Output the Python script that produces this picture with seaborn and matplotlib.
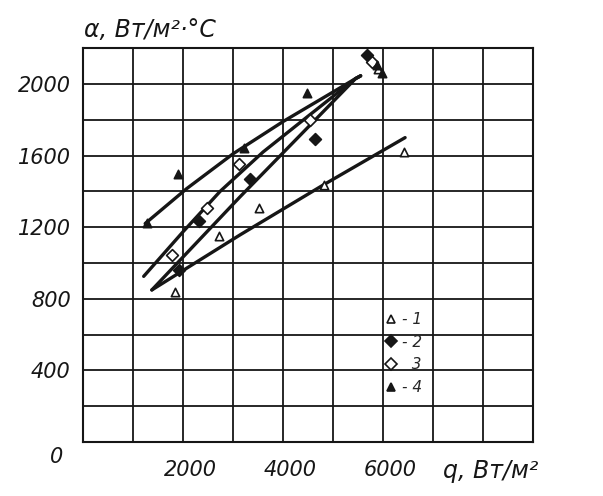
import matplotlib
matplotlib.use("Agg")
import matplotlib.pyplot as plt
import matplotlib.transforms as mtransforms
from matplotlib.lines import Line2D
import pandas as pd
import seaborn as sns

sns.set_style("white")
plt.rcParams['font.family'] = ['DejaVu Sans']

# measured points, q in W/m2, alpha in W/(m2 C)
q_1 = [1840, 2710, 3510, 4810, 6410, 5900]
a_1 = [840, 1150, 1305, 1435, 1620, 2085]
q_2 = [1910, 2310, 3340, 4630, 5670]
a_2 = [960, 1235, 1470, 1695, 2160]
q_3 = [1770, 2470, 3110, 4540, 5780]
a_3 = [1045, 1305, 1550, 1800, 2120]
q_4 = [1270, 1900, 3220, 4470, 5870, 5970]
a_4 = [1222, 1495, 1640, 1950, 2105, 2060]

# hand drawn curves
curve_q_1 = [1373, 3140, 4806, 6440]
curve_a_1 = [849, 1157, 1436, 1700]
curve_q_2 = [1373, 3140, 5450, 5550]
curve_a_2 = [849, 1370, 2030, 2045]
curve_q_3 = [1210, 2000, 2740, 3600, 4500, 5450, 5550]
curve_a_3 = [925, 1175, 1400, 1620, 1820, 2030, 2045]
curve_q_4 = [1240, 2070, 3000, 4000, 5000, 5450, 5550]
curve_a_4 = [1220, 1415, 1610, 1790, 1955, 2030, 2045]

x_ticks = list(range(0, 9001, 1000))
y_ticks = list(range(0, 2201, 200))
x_labels = ["2000", "4000", "6000"]
y_labels = ["400", "800", "1200", "1600", "2000"]

ink = "#161616"
lab_font = dict(fontsize=15, fontstyle="italic", color=ink)

fig = plt.figure(figsize=(6.03, 4.96), dpi=100)
ax = fig.add_axes([0.138, 0.109, 0.746, 0.794])

curves = [(curve_q_1, curve_a_1), (curve_q_2, curve_a_2),
          (curve_q_3, curve_a_3), (curve_q_4, curve_a_4)]
for cq, ca in curves:
    df = pd.DataFrame({"q": cq, "a": ca})
    sns.lineplot(data=df, x="q", y="a", sort=False, estimator=None,
                 color=ink, lw=2.4, ax=ax, legend=False,
                 solid_capstyle="round", solid_joinstyle="round", zorder=3)

series = [(q_1, a_1, "^", "white", "- 1"),
          (q_2, a_2, "D", ink, "- 2"),
          (q_3, a_3, "D", "white", "  3"),
          (q_4, a_4, "^", ink, "- 4")]
handles = []
for sq, sa, mk, fc, lab in series:
    df = pd.DataFrame({"q": sq, "a": sa})
    sns.scatterplot(data=df, x="q", y="a", marker=mk, s=36, color=fc,
                    edgecolor=ink, linewidth=1.2, ax=ax, zorder=4)
    handles.append(Line2D([], [], ls="", marker=mk, markersize=6,
                          markerfacecolor=fc, markeredgecolor=ink,
                          markeredgewidth=1.2, label=lab))

ax.set_xlim(0, 9000)
ax.set_ylim(0, 2200)
ax.set_xticks(x_ticks)
ax.set_yticks(y_ticks)
ax.set_xticklabels([t if t in x_labels else "" for t in map(str, x_ticks)])
ax.set_yticklabels([t if t in y_labels else "" for t in map(str, y_ticks)])
ax.grid(True, color=ink, lw=1.3)
ax.tick_params(length=0, colors=ink, labelsize=15)
ax.tick_params(axis="x", pad=13)
ax.tick_params(axis="y", pad=9)
for t in ax.get_xticklabels() + ax.get_yticklabels():
    t.set_fontstyle("italic")
shift = mtransforms.ScaledTranslation(7 / 100, 0, fig.dpi_scale_trans)
for t in ax.get_xticklabels():
    t.set_transform(t.get_transform() + shift)
for s in ax.spines.values():
    s.set_color(ink)
    s.set_linewidth(1.5)
ax.set_xlabel("")
ax.set_ylabel("")

ax.text(-0.045, -0.012, "0", transform=ax.transAxes, ha="right", va="top",
        **lab_font)
fig.text(0.14, 0.94, "α, Вт/м²·°С", ha="left", va="center", fontsize=17,
         fontstyle="italic", color=ink)
fig.text(0.735, 0.05, "q, Вт/м²", ha="left", va="center", fontsize=17,
         fontstyle="italic", color=ink)

ax.legend(handles=handles, loc="upper left", bbox_to_anchor=(0.64, 0.365),
          frameon=False, handlelength=0.8, handletextpad=0.3,
          labelspacing=0.5, prop=dict(size=11, style="italic"))

fig.savefig("out.png", dpi=100)
